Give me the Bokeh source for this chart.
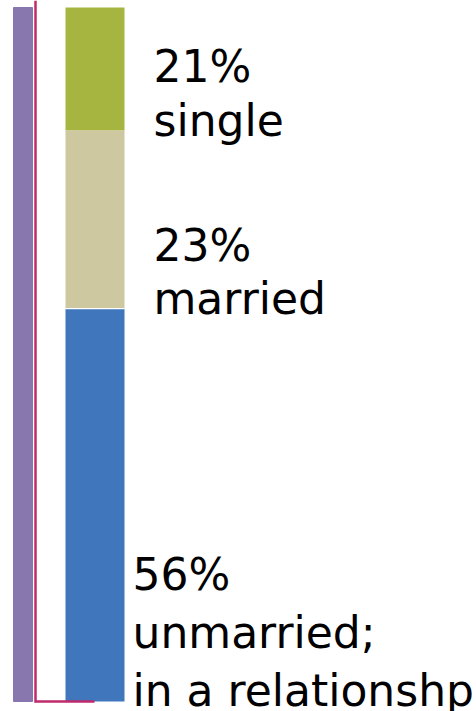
from bokeh.plotting import figure
from bokeh.models import Range1d, ColumnDataSource
from bokeh.embed import file_html
from bokeh.resources import INLINE
from bokeh.core.properties import value

# ---- data ----
segments = ["unmarried", "married", "single"]
segment_values = [56.6, 25.7, 17.7]          # bar heights (%)
segment_colors = ["#3F76BC", "#CEC8A0", "#A6B53F"]
total_value = 100
label_lines = ["21%", "single", "23%", "married", "56%", "unmarried;", "in a relationshp"]

# ---- layout helpers (pixel geometry -> data units) ----
W, H = 476, 711
PX_TOP, PX_BOTTOM = 7, 701            # pixel rows of 100% and 0%
SCALE = (PX_BOTTOM - PX_TOP) / total_value


def y_of(px):
    return (PX_BOTTOM - px) / SCALE


p = figure(width=W, height=H, output_backend="svg", toolbar_location=None,
           x_range=Range1d(0, W), y_range=Range1d(y_of(H), y_of(0)),
           min_border=0, outline_line_color=None,
           background_fill_color="white", border_fill_color="white")
p.axis.visible = False
p.grid.visible = False

# total bar
p.vbar(x=22.5, width=19, bottom=0, top=total_value, color="#8877AE")

# stacked bar
src = ColumnDataSource(dict(x=[94.5], **{s: [v] for s, v in zip(segments, segment_values)}))
p.vbar_stack(segments, x="x", width=59, source=src, color=segment_colors, line_color=None)
# thin white separator between married and unmarried
p.segment(x0=[65], x1=[124], y0=[segment_values[0]], y1=[segment_values[0]],
          line_color="white", line_width=1.2)

# bracket
p.line(x=[35, 35, 94], y=[y_of(0), 0, 0], line_color="#BE2A6B", line_width=2.5,
       line_join="miter")

# labels
label_x = [153, 153, 153, 153, 132, 132, 132]
label_top_px = [40, 94, 219, 272, 548, 606, 664]
p.text(x=label_x, y=[y_of(b) for b in label_top_px], text=label_lines,
       text_font=value("DejaVu Sans"), text_font_size="44px",
       text_baseline="top", text_align="left", text_color="black")

open("out.html", "w").write(file_html(p, INLINE))
